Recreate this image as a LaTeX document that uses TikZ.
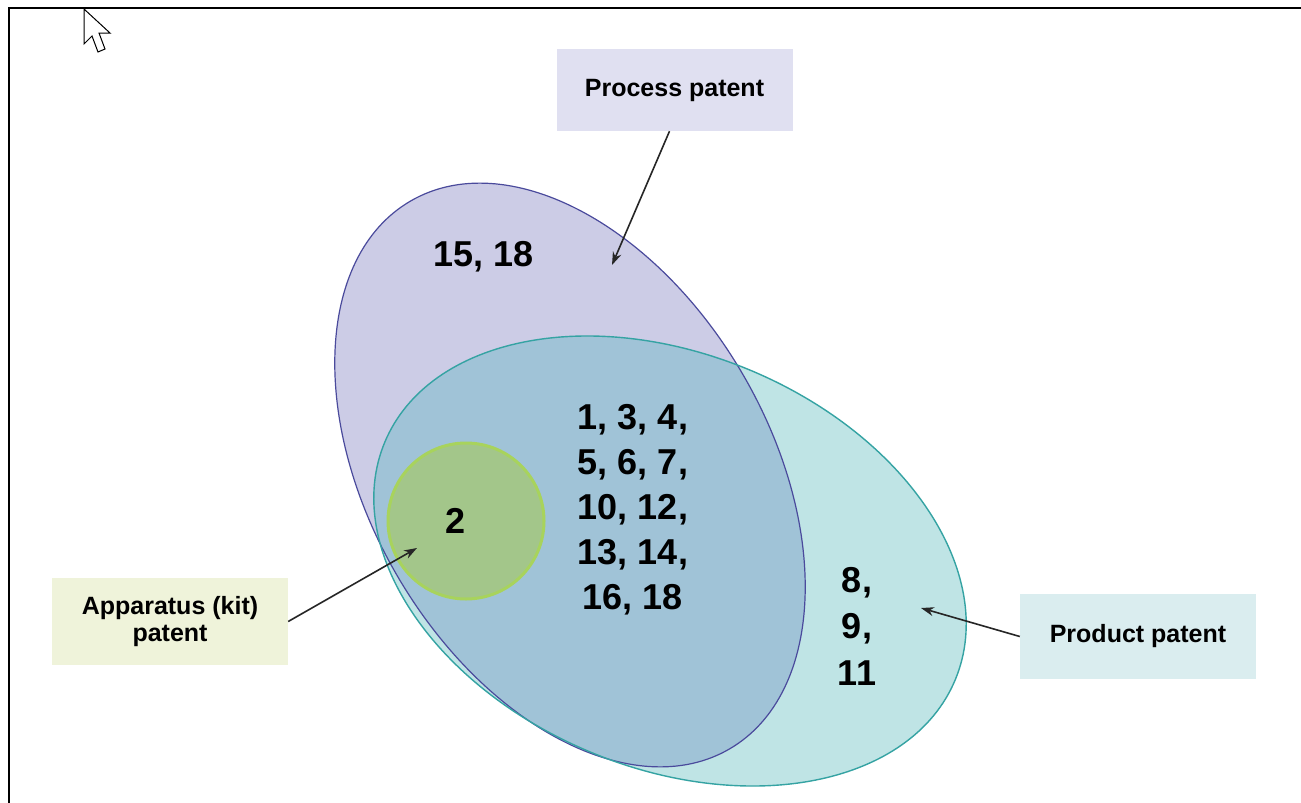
\documentclass[tikz,border=0pt]{standalone}
\usepackage{fontspec}
\setmainfont{Liberation Sans}
\usetikzlibrary{arrows.meta}
\definecolor{procfillc}{HTML}{CCCCE6}
\definecolor{procline}{HTML}{4A4A9C}
\definecolor{prodfillc}{HTML}{BFE4E5}
\definecolor{prodline}{HTML}{35A3A3}
\definecolor{overlapc}{HTML}{A0C3D7}
\definecolor{kitfill}{HTML}{A3C68A}
\definecolor{kitline}{HTML}{A8D35C}
\definecolor{pboxc}{HTML}{E0E0F1}
\definecolor{aboxc}{HTML}{EFF3DA}
\definecolor{prboxc}{HTML}{DAEDEF}
\begin{document}
\begin{tikzpicture}[x=1pt,y=-1pt,
  procpos/.style={shift={(570,475)},rotate=-59.77},
  prodpos/.style={shift={(670,561)},rotate=-22.6},
  patbox/.style={rectangle, minimum width=236pt, inner sep=0pt, align=center,
    font=\bfseries\fontsize{25}{27}\selectfont},
  numtext/.style={inner sep=0pt, align=center, font=\bfseries\fontsize{36}{45}\selectfont},
  pointer/.style={line width=1.6pt, draw=black!85, -{Stealth[length=13pt,width=9pt]}}
]
\useasboundingbox (0,0) rectangle (1301,803);
\fill[white] (0,0) rectangle (1301,803);
\def\procshape{(0,0) ellipse [x radius=317pt, y radius=200pt]}
\def\prodshape{(0,0) ellipse [x radius=309pt, y radius=207pt]}
% frame
\draw[line width=2pt] (9,803) -- (9,8) -- (1301,8);
% cursor
\draw[fill=white, line width=1pt, line join=miter]
  (84,9) -- (84,44) -- (92,36) -- (98,52) -- (105,49) -- (99,33) -- (110,33) -- cycle;
% ellipses
\fill[procfillc, procpos] \procshape;
\fill[prodfillc, prodpos] \prodshape;
\begin{scope}
  \clip[procpos] \procshape;
  \fill[overlapc, prodpos] \prodshape;
\end{scope}
\draw[procline, line width=1.2pt, procpos] \procshape;
\draw[prodline, line width=1.4pt, prodpos] \prodshape;
% kit circle
\filldraw[fill=kitfill, draw=kitline, line width=3pt] (466,521) circle [radius=78pt];
% numbers
\node[numtext] (n1) at (484,257) {15, 18};
\node[numtext] (n2) at (633,510) {1, 3, 4,\\5, 6, 7,\\10, 12,\\13, 14,\\16, 18};
\node[numtext] (n3) at (456,520.5) {2};
\node[numtext, font=\bfseries\fontsize{36}{46.5}\selectfont] (n4) at (857,626) {8,\\9,\\11};
% label boxes
\node[patbox, fill=pboxc, minimum height=82pt] (pbox) at (674.5,90) {Process patent};
\node[patbox, fill=aboxc, minimum height=87pt] (abox) at (170,621.5) {Apparatus (kit)\\patent};
\node[patbox, fill=prboxc, minimum height=85pt] (prbox) at (1138,636.5) {Product patent};
% arrows
\coordinate (ptip) at (612,265);
\coordinate (atip) at (417,548);
\coordinate (prtip) at (921,608);
\draw[pointer] ([xshift=-5pt]pbox.south) -- (ptip);
\draw[pointer] (abox.east) -- (atip);
\draw[pointer] (prbox.west) -- (prtip);
\end{tikzpicture}
\end{document}
